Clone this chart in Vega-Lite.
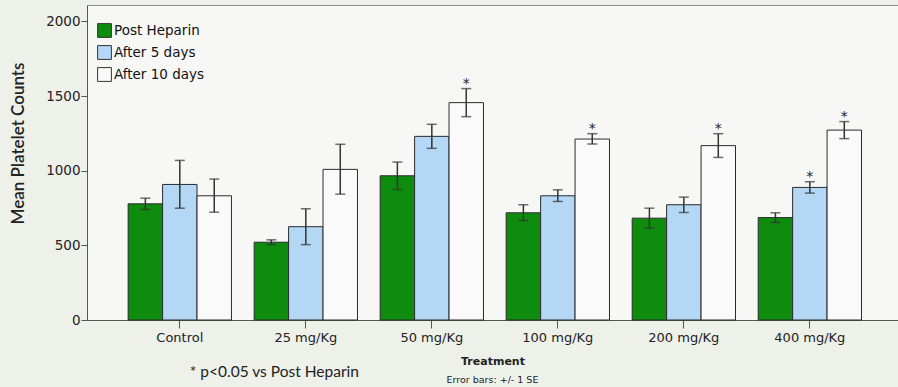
{
  "$schema": "https://vega.github.io/schema/vega-lite/v6.json",
  "width": 811,
  "height": 315,
  "autosize": {"type": "none"},
  "padding": {"left": 87, "top": 5, "right": 0, "bottom": 67},
  "background": "#eef0ea",
  "config": {
    "view": {"stroke": "#8a8a8a", "fill": "#f7f7f5"},
    "font": "DejaVu Sans"
  },
  "title": {
    "text": "Error bars: +/- 1 SE",
    "orient": "bottom",
    "anchor": "middle",
    "fontSize": 9.5,
    "fontWeight": "normal",
    "font": "DejaVu Sans",
    "color": "#222222",
    "offset": -5
  },
  "data": {
    "values": [
      {"treatment": "Control", "series": "Post Heparin", "mean": 778, "lo": 740, "hi": 816, "sig": ""},
      {"treatment": "Control", "series": "After 5 days", "mean": 908, "lo": 749, "hi": 1069, "sig": ""},
      {"treatment": "Control", "series": "After 10 days", "mean": 832, "lo": 722, "hi": 944, "sig": ""},
      {"treatment": "25 mg/Kg", "series": "Post Heparin", "mean": 521, "lo": 505, "hi": 537, "sig": ""},
      {"treatment": "25 mg/Kg", "series": "After 5 days", "mean": 625, "lo": 505, "hi": 745, "sig": ""},
      {"treatment": "25 mg/Kg", "series": "After 10 days", "mean": 1009, "lo": 843, "hi": 1177, "sig": ""},
      {"treatment": "50 mg/Kg", "series": "Post Heparin", "mean": 966, "lo": 874, "hi": 1058, "sig": ""},
      {"treatment": "50 mg/Kg", "series": "After 5 days", "mean": 1230, "lo": 1150, "hi": 1311, "sig": ""},
      {"treatment": "50 mg/Kg", "series": "After 10 days", "mean": 1456, "lo": 1362, "hi": 1550, "sig": "*"},
      {"treatment": "100 mg/Kg", "series": "Post Heparin", "mean": 718, "lo": 666, "hi": 772, "sig": ""},
      {"treatment": "100 mg/Kg", "series": "After 5 days", "mean": 832, "lo": 794, "hi": 872, "sig": ""},
      {"treatment": "100 mg/Kg", "series": "After 10 days", "mean": 1212, "lo": 1179, "hi": 1248, "sig": "*"},
      {"treatment": "200 mg/Kg", "series": "Post Heparin", "mean": 682, "lo": 615, "hi": 749, "sig": ""},
      {"treatment": "200 mg/Kg", "series": "After 5 days", "mean": 772, "lo": 720, "hi": 823, "sig": ""},
      {"treatment": "200 mg/Kg", "series": "After 10 days", "mean": 1168, "lo": 1089, "hi": 1248, "sig": "*"},
      {"treatment": "400 mg/Kg", "series": "Post Heparin", "mean": 686, "lo": 653, "hi": 718, "sig": ""},
      {"treatment": "400 mg/Kg", "series": "After 5 days", "mean": 888, "lo": 850, "hi": 926, "sig": "*"},
      {"treatment": "400 mg/Kg", "series": "After 10 days", "mean": 1272, "lo": 1215, "hi": 1329, "sig": "*"}
    ]
  },
  "layer": [
    {
      "mark": {"type": "bar", "stroke": "#2b2b2b", "strokeWidth": 1},
      "encoding": {
        "x": {
          "field": "treatment",
          "type": "nominal",
          "sort": ["Control", "25 mg/Kg", "50 mg/Kg", "100 mg/Kg", "200 mg/Kg", "400 mg/Kg"],
          "scale": {"paddingInner": 0.18, "paddingOuter": 0.308, "align": 0.53},
          "axis": {
            "title": "Treatment",
            "titleFont": "DejaVu Sans",
            "titleFontWeight": "bold",
            "titleFontSize": 11,
            "titleColor": "#222222",
            "titlePadding": 11,
            "labelAngle": 0,
            "labelFontSize": 13,
            "labelColor": "#222222",
            "labelPadding": 3,
            "tickSize": 8,
            "tickColor": "#555555",
            "domainColor": "#555555"
          }
        },
        "xOffset": {
          "field": "series",
          "type": "nominal",
          "sort": ["Post Heparin", "After 5 days", "After 10 days"],
          "scale": {"paddingInner": 0, "paddingOuter": 0}
        },
        "y": {
          "field": "mean",
          "type": "quantitative",
          "scale": {"domain": [0, 2110], "nice": false},
          "axis": {
            "title": "Mean Platelet Counts",
            "titleFont": "Lato",
            "titleFontWeight": 600,
            "titleFontSize": 17,
            "titleColor": "#222222",
            "titleX": -69,
            "titleY": 138,
            "titleAngle": -90,
            "titleAlign": "center",
            "titleBaseline": "middle",
            "values": [0, 500, 1000, 1500, 2000],
            "format": "d",
            "grid": false,
            "labelFontSize": 13.5,
            "labelColor": "#222222",
            "labelPadding": 1,
            "tickSize": 6,
            "tickColor": "#555555",
            "domainColor": "#555555"
          }
        },
        "color": {
          "field": "series",
          "type": "nominal",
          "sort": ["Post Heparin", "After 5 days", "After 10 days"],
          "scale": {
            "domain": ["Post Heparin", "After 5 days", "After 10 days"],
            "range": ["#0e8c0e", "#b3d7f5", "#fafafa"]
          },
          "legend": {
            "title": null,
            "orient": "none",
            "legendX": 10,
            "legendY": 18,
            "symbolType": "square",
            "symbolSize": 190,
            "symbolStrokeColor": "#333333",
            "symbolStrokeWidth": 1,
            "symbolOpacity": 1,
            "labelFont": "DejaVu Sans",
            "labelFontSize": 13.5,
            "labelColor": "#111111",
            "labelOffset": 2,
            "rowPadding": 3
          }
        }
      }
    },
    {
      "mark": {"type": "rule", "color": "#333333", "strokeWidth": 1.5},
      "encoding": {
        "x": {"field": "treatment", "type": "nominal", "sort": ["Control", "25 mg/Kg", "50 mg/Kg", "100 mg/Kg", "200 mg/Kg", "400 mg/Kg"]},
        "xOffset": {"field": "series", "type": "nominal", "sort": ["Post Heparin", "After 5 days", "After 10 days"]},
        "y": {"field": "lo", "type": "quantitative"},
        "y2": {"field": "hi"}
      }
    },
    {
      "mark": {"type": "tick", "color": "#333333", "size": 10, "thickness": 1.5},
      "encoding": {
        "x": {"field": "treatment", "type": "nominal", "sort": ["Control", "25 mg/Kg", "50 mg/Kg", "100 mg/Kg", "200 mg/Kg", "400 mg/Kg"]},
        "xOffset": {"field": "series", "type": "nominal", "sort": ["Post Heparin", "After 5 days", "After 10 days"]},
        "y": {"field": "lo", "type": "quantitative"}
      }
    },
    {
      "mark": {"type": "tick", "color": "#333333", "size": 10, "thickness": 1.5},
      "encoding": {
        "x": {"field": "treatment", "type": "nominal", "sort": ["Control", "25 mg/Kg", "50 mg/Kg", "100 mg/Kg", "200 mg/Kg", "400 mg/Kg"]},
        "xOffset": {"field": "series", "type": "nominal", "sort": ["Post Heparin", "After 5 days", "After 10 days"]},
        "y": {"field": "hi", "type": "quantitative"}
      }
    },
    {
      "mark": {"type": "text", "fontSize": 14, "color": "#222222", "baseline": "alphabetic", "dy": -1, "font": "DejaVu Sans"},
      "encoding": {
        "x": {"field": "treatment", "type": "nominal", "sort": ["Control", "25 mg/Kg", "50 mg/Kg", "100 mg/Kg", "200 mg/Kg", "400 mg/Kg"]},
        "xOffset": {"field": "series", "type": "nominal", "sort": ["Post Heparin", "After 5 days", "After 10 days"]},
        "y": {"field": "hi", "type": "quantitative"},
        "text": {"field": "sig"}
      }
    },
    {
      "data": {"values": [{"note": "* p<0.05 vs Post Heparin"}]},
      "mark": {"type": "text", "font": "Lato", "fontSize": 15.5, "color": "#222222", "align": "left", "baseline": "middle", "dx": 10},
      "encoding": {
        "x": {"datum": "Control"},
        "y": {"datum": -347},
        "text": {"field": "note"}
      }
    }
  ]
}
